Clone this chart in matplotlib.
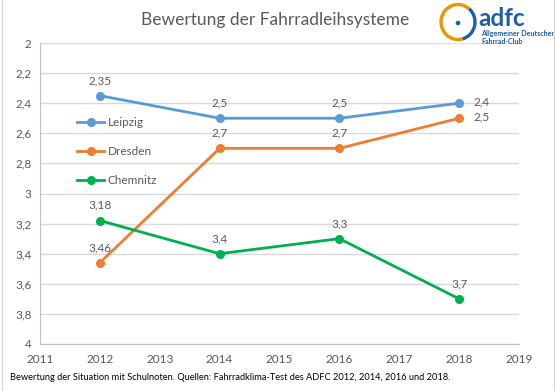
import matplotlib
matplotlib.use("Agg")
import matplotlib.pyplot as plt
from matplotlib.patches import Arc, Circle, Rectangle

plt.rcParams['font.family'] = ['Lato', 'DejaVu Sans']

years = [2012, 2014, 2016, 2018]
leipzig = [2.35, 2.5, 2.5, 2.4]
dresden = [3.46, 2.7, 2.7, 2.5]
chemnitz = [3.18, 3.4, 3.3, 3.7]
series_names = ["Leipzig", "Dresden", "Chemnitz"]
colors = ["#5B9BD5", "#ED7D31", "#00B050"]
yticks = [2.0, 2.2, 2.4, 2.6, 2.8, 3.0, 3.2, 3.4, 3.6, 3.8, 4.0]
xticks = list(range(2011, 2020))

title = "Bewertung der Fahrradleihsysteme"
footer = "Bewertung der Situation mit Schulnoten. Quellen: Fahrradklima-Test des ADFC 2012, 2014, 2016 und 2018."

W, H = 555, 391
fig = plt.figure(figsize=(W / 100, H / 100), dpi=100)
ax = fig.add_axes([40 / W, 1 - 344 / H, (519 - 40) / W, (344 - 43) / H])

def fmt(v):
    return ("%g" % v).replace(".", ",")

grey_txt = "#595959"
for name, vals, c in zip(series_names, [leipzig, dresden, chemnitz], colors):
    ax.plot(years, vals, color=c, lw=2, marker="o", ms=5.5, label=name, zorder=3)
    for x, y in zip(years, vals):
        if x == 2018 and name in ("Leipzig", "Dresden"):
            ax.annotate(fmt(y), (x, y), xytext=(10, 1), textcoords="offset points",
                        ha="left", va="center", fontsize=8.5, color=grey_txt)
        else:
            ax.annotate(fmt(y), (x, y), xytext=(0, 7), textcoords="offset points",
                        ha="center", va="bottom", fontsize=8.5, color=grey_txt)

ax.set_xlim(2011, 2019)
ax.set_ylim(4, 2)
ax.set_yticks(yticks)
ax.set_yticklabels([fmt(v) for v in yticks])
ax.set_xticks(xticks)
ax.set_xticklabels([str(x) for x in xticks])
ax.tick_params(axis="both", length=0, labelsize=8.5, labelcolor=grey_txt)
ax.tick_params(axis="y", pad=6)
ax.tick_params(axis="x", pad=7)
ax.grid(axis="y", color="#D9D9D9", lw=1)
ax.set_axisbelow(True)
for s in ["top", "right"]:
    ax.spines[s].set_visible(False)
ax.spines["left"].set_color("#BFBFBF")
ax.spines["bottom"].set_color("#BFBFBF")

leg = ax.legend(loc="upper left", bbox_to_anchor=(0.055, 0.79), frameon=False,
                fontsize=8.5, labelspacing=1.55, handlelength=2.3, handletextpad=0.3)
for t in leg.get_texts():
    t.set_color(grey_txt)

fig.text(275 / W, 1 - 20 / H, title, ha="center", va="center", fontsize=12.5, color=grey_txt)
fig.text(10 / W, 1 - 377 / H, footer, ha="left", va="center", fontsize=6.65, color="black")

# frame lines
fig.add_artist(plt.Line2D([1.5 / W, 1.5 / W], [0, 1], transform=fig.transFigure, color="#D9D9D9", lw=1))
fig.add_artist(plt.Line2D([553.5 / W, 553.5 / W], [0, 1], transform=fig.transFigure, color="#D9D9D9", lw=1))

# logo
lax = fig.add_axes([436 / W, 1 - 50 / H, 119 / W, 50 / H])
lax.set_xlim(436, 555)
lax.set_ylim(50, 0)
lax.axis("off")
lax.add_patch(Rectangle((436, 0), 117, 42, color="white", zorder=0))
lax.add_patch(Arc((458, 22), 34, 35, theta1=75, theta2=310, color="#F39200", lw=2.4))
lax.add_patch(Arc((458, 22), 34, 35, theta1=-50, theta2=75, color="#1B5FAA", lw=2.4))
lax.add_patch(Circle((458, 23), 1.6, color="#1B5FAA"))
lax.text(478, 18, "adfc", ha="left", va="center", fontsize=17.5, fontweight="bold", color="#1B5FAA")
lax.text(481, 33.5, "Allgemeiner Deutscher", ha="left", va="center", fontsize=5.1, fontweight="bold", color="#1B5FAA")
lax.text(481, 41.5, "Fahrrad-Club", ha="left", va="center", fontsize=5.1, fontweight="bold", color="#1B5FAA")

fig.savefig("out.png", dpi=100)
